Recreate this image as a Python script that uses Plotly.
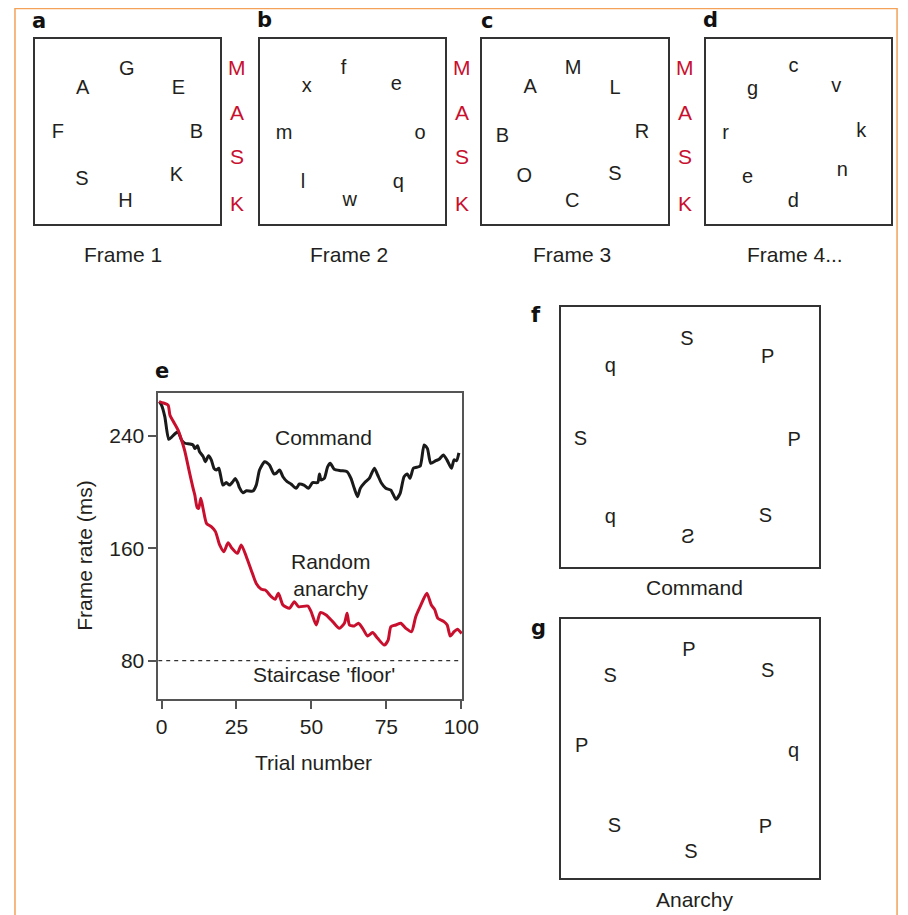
import plotly.graph_objects as go

# ---------------- data ----------------
trial_ticks = [0, 25, 50, 75, 100]
rate_ticks = [80, 160, 240]
floor_value = 80

command_x = [-0.8, 0, 1.1, 2.4, 3.3, 4.4, 5.5, 6.7, 7.8, 9.4, 10.5, 11.1, 12.0, 12.7, 13.9, 14.6, 15.7, 16.6,
             17.5, 18.3, 19.1, 19.7, 20.5, 21.6, 22.7, 23.8, 24.6, 25.5, 26.0, 27.2, 28.3, 30.5, 31.6, 32.7,
             34.4, 36.0, 37.5, 38.2, 39.4, 40.5, 41.9, 43.2, 44.9, 46.0, 47.5, 49.0, 50.4, 52.1, 52.7, 53.2,
             54.3, 55.4, 56.3, 57.6, 59.9, 61.9, 63.2, 64.3, 65.4, 66.3, 67.8, 69.3, 71.0, 72.1, 73.4, 74.8,
             76.5, 78.2, 79.6, 80.9, 82.0, 82.9, 84.0, 85.1, 86.3, 87.6, 88.7, 89.8, 91.5, 92.6, 94.0, 95.2,
             96.7, 97.6, 98.4, 99.2]
command_y = [264.5, 262, 253.8, 237.6, 239, 241.4, 243, 237, 234.8, 234.3, 233.6, 231, 233, 228.8, 225.3,
             221.7, 226, 223, 217, 215.8, 217, 212, 205, 206.8, 205, 207.5, 209.8, 206.3, 203.2, 199.6, 201,
             200.8, 205, 215.8, 221.7, 219.3, 213, 213.4, 215.8, 211, 207.5, 205.8, 202.7, 205.8, 205, 202.7,
             206.8, 206.8, 213, 208.7, 209.8, 218, 220.5, 216.3, 215.3, 214.6, 209.8, 202.7, 196.8, 202.7,
             206.8, 209.8, 217, 212.2, 206.3, 202.7, 201.5, 194.9, 199.2, 211, 213, 209.8, 217, 217.7, 218.6,
             233.6, 231, 220.5, 222.4, 223.4, 226.5, 223, 217, 223, 222.4, 228]

anarchy_x = [-0.8, 0.6, 2.2, 2.8, 3.9, 5.5, 7.2, 7.8, 9.4, 10.5, 11.1, 11.9, 12.4, 13.1, 13.9, 15.0, 16.6, 18.0,
             19.4, 20.8, 22.2, 23.5, 25.3, 26.6, 28.3, 29.9, 31.6, 33.3, 34.6, 36.6, 37.9, 39.0, 40.5, 42.7,
             44.3, 45.7, 48.8, 49.9, 51.6, 53.0, 54.9, 57.1, 59.3, 61.0, 61.9, 62.7, 64.3, 65.7, 67.1, 68.7,
             70.4, 72.1, 74.3, 75.6, 76.5, 78.2, 79.8, 81.5, 83.4, 84.8, 86.5, 88.5, 90.0, 91.1, 92.2, 94.2,
             95.3, 96.3, 97.6, 98.7, 100.1]
anarchy_y = [264.5, 263.5, 262, 255, 250.5, 244.3, 233.6, 229, 213.4, 203, 198, 189, 188.5, 195.6, 188, 177.8,
             175.4, 171.9, 162.4, 157.6, 164, 160, 156.4, 162.4, 154, 144.6, 135, 130.8, 130.3, 125.6, 123.7,
             128, 119.6, 117.3, 122, 118.4, 118.9, 114.9, 105.4, 114.2, 112.5, 107.8, 103, 106.6, 113.7, 105.4,
             104.7, 106.6, 103, 97.6, 100, 95.9, 91.1, 94.7, 104.2, 105.4, 106.6, 103, 100.6, 111.3, 119.6, 128,
             119.6, 116.5, 110.1, 107.8, 105.4, 97.6, 100.6, 102.3, 99.4]

frame1_letters = ["G", "A", "E", "F", "B", "S", "K", "H"]
frame2_letters = ["f", "x", "e", "m", "o", "l", "q", "w"]
frame3_letters = ["M", "A", "L", "B", "R", "O", "S", "C"]
frame4_letters = ["c", "g", "v", "r", "k", "e", "n", "d"]
command_letters = ["S", "P", "q", "S", "P", "q", "S", "Ƨ"]
anarchy_letters = ["P", "S", "S", "P", "q", "S", "P", "S"]
mask_letters = ["M", "A", "S", "K"]
frame_captions = ["Frame 1", "Frame 2", "Frame 3", "Frame 4..."]

# ---------------- layout helpers ----------------
OFF = 8                 # page body margin
W_LAYOUT = 924
W_EFF = W_LAYOUT - 2 * OFF   # width the figure effectively gets on the page
H = 915 - OFF
FONT = "Liberation Sans, Arial, Helvetica, sans-serif"
TXT = "#231f20"
RED = "#c8102e"


def px(x):
    return (x - OFF) / W_EFF


def py(y):
    return 1 - (y - OFF) / H


# letter positions inside each box (fractions of box)
pos_f1 = ([0.495, 0.258, 0.774, 0.124, 0.871, 0.253, 0.763, 0.489],
          [0.832, 0.730, 0.730, 0.492, 0.492, 0.238, 0.259, 0.119])
pos_f2 = ([0.454, 0.255, 0.739, 0.132, 0.868, 0.234, 0.750, 0.487],
          [0.838, 0.738, 0.749, 0.484, 0.489, 0.222, 0.222, 0.127])
pos_f3 = ([0.489, 0.258, 0.715, 0.108, 0.860, 0.226, 0.715, 0.484],
          [0.838, 0.735, 0.730, 0.470, 0.492, 0.254, 0.265, 0.119])
pos_f4 = ([0.473, 0.253, 0.704, 0.108, 0.839, 0.226, 0.737, 0.473],
          [0.851, 0.724, 0.738, 0.484, 0.497, 0.246, 0.284, 0.119])
pos_cmd = ([0.487, 0.800, 0.190, 0.075, 0.903, 0.190, 0.791, 0.491],
           [0.873, 0.804, 0.769, 0.488, 0.485, 0.188, 0.192, 0.112])
pos_anr = ([0.495, 0.800, 0.190, 0.079, 0.900, 0.206, 0.791, 0.503],
           [0.876, 0.795, 0.776, 0.506, 0.486, 0.197, 0.193, 0.097])

# box pixel extents: left, right, top, bottom
boxes = [
    (33, 219, 39, 224),
    (258.5, 444, 39, 224),
    (482, 668, 39, 224),
    (706, 892, 39, 224),
    (561, 820, 307, 567),
    (561, 820, 619, 878),
]
box_letters = [frame1_letters, frame2_letters, frame3_letters, frame4_letters, command_letters, anarchy_letters]
box_pos = [pos_f1, pos_f2, pos_f3, pos_f4, pos_cmd, pos_anr]

fig = go.Figure()
layout = dict(
    width=W_LAYOUT, height=H, margin=dict(l=0, r=0, t=0, b=0),
    paper_bgcolor="white", plot_bgcolor="white", showlegend=False,
    font=dict(family=FONT, color=TXT, size=20),
)

# ---------------- panel e (line chart) ----------------
fig.add_trace(go.Scatter(x=[-1.1, 100.3], y=[floor_value, floor_value], mode="lines",
                         line=dict(color="#333333", width=1.4, dash="4px,4px"),
                         hoverinfo="skip", xaxis="x", yaxis="y"))
fig.add_trace(go.Scatter(x=command_x, y=command_y, mode="lines",
                         line=dict(color="#1a1a1a", width=3, shape="spline", smoothing=0.6),
                         xaxis="x", yaxis="y"))
fig.add_trace(go.Scatter(x=anarchy_x, y=anarchy_y, mode="lines",
                         line=dict(color=RED, width=3, shape="spline", smoothing=0.6),
                         xaxis="x", yaxis="y"))

layout["xaxis"] = dict(domain=[px(156.7), px(461.7)], range=[-1.1, 100.3], anchor="y",
                       tickvals=trial_ticks, ticks="outside", ticklen=8, tickwidth=1.5,
                       tickcolor="#555555", showline=True, linecolor="#555555", linewidth=1.5,
                       mirror=True, showgrid=False, zeroline=False,
                       tickfont=dict(size=21, color=TXT, family=FONT))
layout["yaxis"] = dict(domain=[py(699), py(393)], range=[52.7, 270.6], anchor="x",
                       tickvals=rate_ticks, ticks="outside", ticklen=8, tickwidth=1.5,
                       tickcolor="#555555", showline=True, linecolor="#555555", linewidth=1.5,
                       mirror=True, showgrid=False, zeroline=False,
                       tickfont=dict(size=21, color=TXT, family=FONT))

# ---------------- frame boxes ----------------
for i, ((l, r, t, b), letters, (xs, ys)) in enumerate(zip(boxes, box_letters, box_pos)):
    n = i + 2
    xa, ya = f"x{n}", f"y{n}"
    layout[f"xaxis{n}"] = dict(domain=[px(l), px(r)], range=[0, 1], anchor=ya,
                               showline=True, mirror=True, linecolor="#333333", linewidth=1.5,
                               showticklabels=False, ticks="", showgrid=False, zeroline=False,
                               fixedrange=True)
    layout[f"yaxis{n}"] = dict(domain=[py(b), py(t)], range=[0, 1], anchor=xa,
                               showline=True, mirror=True, linecolor="#333333", linewidth=1.5,
                               showticklabels=False, ticks="", showgrid=False, zeroline=False,
                               fixedrange=True)
    fig.add_trace(go.Scatter(x=xs, y=ys, text=letters, mode="text", textposition="middle center",
                             textfont=dict(size=20, color=TXT, family=FONT),
                             hoverinfo="skip", xaxis=xa, yaxis=ya))

ann = []
# MASK columns
mask_x = [236, 461, 685]
mask_y = [67, 113, 157, 203]
for mx in mask_x:
    for letter, my in zip(mask_letters, mask_y):
        ann.append(dict(x=px(mx), y=py(my), text=letter, font=dict(size=21, color=RED)))

# frame captions
for cap, cx in zip(frame_captions, [121, 348, 572, 796]):
    ann.append(dict(x=px(cx), y=py(254), text=cap, font=dict(size=21, color=TXT)))
ann.append(dict(x=px(695), y=py(587), text="Command", font=dict(size=21, color=TXT)))
ann.append(dict(x=px(695), y=py(899), text="Anarchy", font=dict(size=21, color=TXT)))

# panel labels
for lab, lx, ly in [("a", 37.5, 21), ("b", 263, 20), ("c", 487, 21), ("d", 711, 20),
                    ("e", 160.7, 371), ("f", 536, 315), ("g", 538, 628)]:
    ann.append(dict(x=px(lx), y=py(ly), text=f"<b>{lab}</b>",
                    font=dict(size=21, color="#111111", family="DejaVu Sans, sans-serif")))

# chart e texts
ann.append(dict(x=54.2, y=238.6, xref="x", yref="y", text="Command", font=dict(size=21, color=TXT)))
ann.append(dict(x=56.5, y=140.9, xref="x", yref="y", text="Random<br>anarchy",
                font=dict(size=21, color=TXT)))
ann.append(dict(x=54.2, y=69.8, xref="x", yref="y", text="Staircase 'floor'",
                font=dict(size=21, color=TXT)))
ann.append(dict(x=px(82), y=py(555), text="Frame rate (ms)", textangle=-90,
                font=dict(size=21, color=TXT)))
ann.append(dict(x=px(313), y=py(762), text="Trial number", font=dict(size=21, color=TXT)))

for a in ann:
    a.setdefault("xref", "paper")
    a.setdefault("yref", "paper")
    a["showarrow"] = False
    a["xanchor"] = "center"
    a["yanchor"] = "middle"
    a.setdefault("font", {})
    a["font"].setdefault("family", FONT)
layout["annotations"] = ann

# orange outer border (right edge pulled in so it stays inside the visible page)
layout["shapes"] = [dict(type="rect", xref="paper", yref="paper", x0=px(13), x1=px(898),
                         y0=py(940), y1=py(8.5), line=dict(color="#f4a25a", width=1.5),
                         fillcolor="rgba(0,0,0,0)", layer="below")]

fig.update_layout(**layout)
fig.write_html("out.html")
